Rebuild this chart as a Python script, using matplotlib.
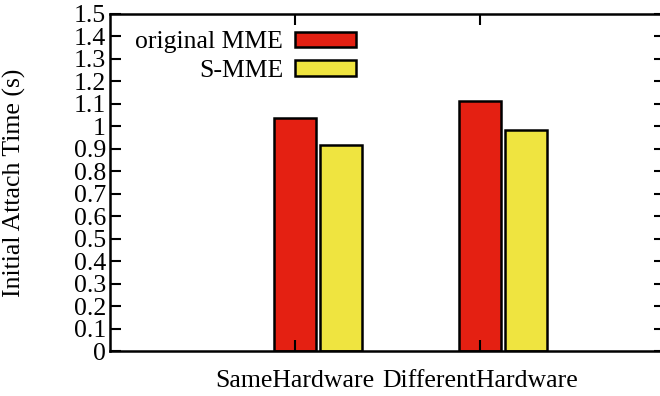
import numpy as np
import matplotlib
matplotlib.use('Agg')
import matplotlib.pyplot as plt

categories = ['SameHardware', 'DifferentHardware']
series_names = ['original MME', 'S-MME']
original_mme = [1.035, 1.113]
s_mme = [0.917, 0.984]
colors = ['#e42012', '#efe440']

plt.rcParams['font.family'] = ['Liberation Serif', 'DejaVu Serif']
plt.rcParams['font.size'] = 18.5

fig = plt.figure(figsize=(6.6, 3.96), dpi=100)
ax = fig.add_axes([110 / 660, 1 - 351 / 396, 555 / 660, 337 / 396])

x = np.arange(len(categories))
w = 0.227
off = 0.249
ax.bar(x, original_mme, w, color=colors[0], edgecolor='black', linewidth=1.8, label=series_names[0])
ax.bar(x + off, s_mme, w, color=colors[1], edgecolor='black', linewidth=1.8, label=series_names[1])

ax.set_xlim(-1, 2)
ax.set_ylim(0, 1.5)
yt = np.round(np.arange(0, 1.51, 0.1), 1)
ax.set_yticks(yt)
ax.set_yticklabels(['%g' % v for v in yt])
ax.set_xticks(x)
ax.set_xticklabels(categories)
ax.tick_params(axis='y', direction='in', length=8, width=1.5, right=True, pad=3)
ax.tick_params(axis='x', direction='in', length=8, width=1.5, top=True, pad=14)
for s in ax.spines.values():
    s.set_linewidth(1.8)
ax.set_ylabel('Initial Attach Time (s)', labelpad=34)

ax.legend(loc='upper left', bbox_to_anchor=(0.027, 0.979), frameon=False, markerfirst=False,
          handlelength=2.4, handleheight=0.55, labelspacing=0.27, handletextpad=0.45,
          borderaxespad=0.0)

fig.savefig('out.png', dpi=100)
